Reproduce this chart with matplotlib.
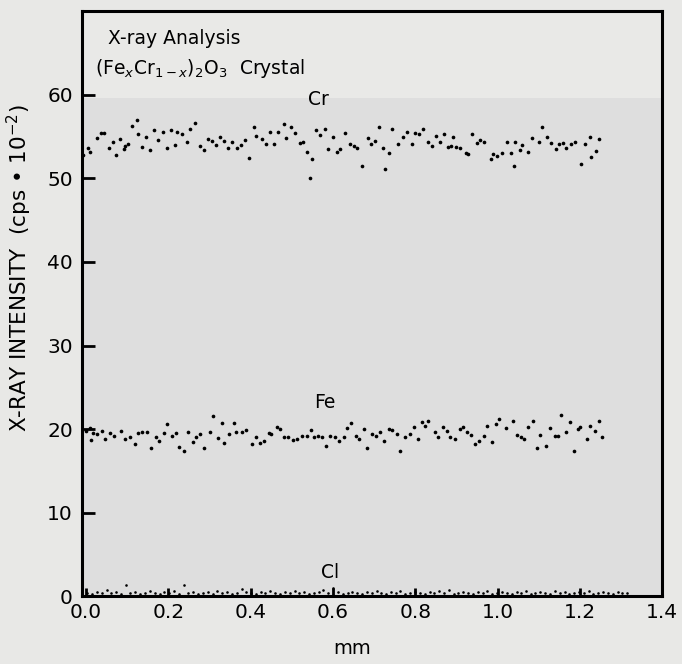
import matplotlib
matplotlib.use("Agg")
import matplotlib.pyplot as plt

# ---------------- data ----------------
cr_x = [-0.007, 0.006, 0.011, 0.026, 0.036, 0.044, 0.056, 0.065, 0.073, 0.082,
        0.092, 0.094, 0.103, 0.113, 0.125, 0.127, 0.137, 0.147, 0.155, 0.166,
        0.175, 0.186, 0.198, 0.206, 0.217, 0.222, 0.233, 0.246, 0.252, 0.264,
        0.277, 0.286, 0.296, 0.307, 0.317, 0.326, 0.336, 0.345, 0.356, 0.367,
        0.377, 0.386, 0.395, 0.408, 0.414, 0.427, 0.437, 0.447, 0.458, 0.467,
        0.481, 0.485, 0.497, 0.507, 0.520, 0.527, 0.537, 0.544, 0.549, 0.558,
        0.568, 0.580, 0.588, 0.600, 0.611, 0.617, 0.629, 0.641, 0.651, 0.658,
        0.670, 0.685, 0.692, 0.703, 0.713, 0.721, 0.727, 0.736, 0.743, 0.759,
        0.770, 0.781, 0.791, 0.800, 0.808, 0.820, 0.831, 0.841, 0.851, 0.860,
        0.871, 0.880, 0.888, 0.892, 0.898, 0.908, 0.924, 0.929, 0.939, 0.950,
        0.958, 0.968, 0.984, 0.990, 0.999, 1.011, 1.022, 1.033, 1.042, 1.041,
        1.055, 1.059, 1.074, 1.083, 1.100, 1.109, 1.120, 1.130, 1.141, 1.149,
        1.158, 1.167, 1.178, 1.187, 1.203, 1.213, 1.226, 1.225, 1.239, 1.247]
cr_y = [52.8, 53.7, 53.2, 54.8, 55.4, 55.4, 53.7, 54.3, 52.8, 54.7,
        53.5, 53.9, 54.1, 56.3, 57.0, 55.3, 53.8, 54.9, 53.4, 55.8,
        54.6, 55.6, 53.7, 55.8, 54.0, 55.5, 55.3, 54.3, 55.9, 56.6,
        53.9, 53.4, 54.7, 54.5, 54.0, 55.0, 54.5, 53.6, 54.3, 53.7,
        54.0, 54.6, 52.5, 56.2, 55.1, 54.7, 54.1, 55.5, 54.1, 55.6,
        56.5, 54.8, 56.2, 55.4, 54.2, 54.3, 53.2, 50.0, 52.3, 55.8,
        55.2, 55.9, 53.5, 54.9, 53.2, 53.5, 55.4, 54.1, 53.9, 53.7,
        51.5, 54.8, 54.1, 54.5, 56.1, 53.7, 51.1, 53.0, 55.9, 54.1,
        54.9, 55.6, 54.1, 55.4, 55.3, 55.9, 54.3, 53.9, 55.1, 54.3,
        55.3, 53.8, 53.9, 54.9, 53.8, 53.7, 53.1, 52.9, 55.3, 54.2,
        54.6, 54.3, 52.3, 52.9, 52.7, 53.1, 54.3, 53.0, 54.3, 51.5,
        53.4, 54.0, 53.2, 54.8, 54.3, 56.1, 55.0, 54.2, 53.5, 54.1,
        54.2, 53.7, 54.1, 54.3, 51.7, 54.1, 52.6, 54.9, 53.3, 54.7]

fe_x = [0.000, 0.011, 0.012, 0.018, 0.027, 0.039, 0.046, 0.058, 0.068, 0.085,
        0.096, 0.107, 0.118, 0.127, 0.136, 0.149, 0.157, 0.169, 0.178, 0.189,
        0.198, 0.210, 0.219, 0.227, 0.239, 0.249, 0.259, 0.268, 0.277, 0.286,
        0.302, 0.309, 0.321, 0.331, 0.336, 0.348, 0.360, 0.365, 0.378, 0.390,
        0.403, 0.413, 0.423, 0.432, 0.445, 0.450, 0.464, 0.472, 0.482, 0.490,
        0.502, 0.513, 0.526, 0.537, 0.546, 0.555, 0.564, 0.574, 0.584, 0.592,
        0.605, 0.615, 0.626, 0.634, 0.643, 0.655, 0.663, 0.675, 0.683, 0.694,
        0.704, 0.715, 0.725, 0.736, 0.743, 0.755, 0.764, 0.775, 0.788, 0.796,
        0.806, 0.817, 0.824, 0.831, 0.847, 0.856, 0.867, 0.877, 0.885, 0.897,
        0.909, 0.917, 0.926, 0.935, 0.946, 0.955, 0.966, 0.975, 0.987, 0.995,
        1.004, 1.020, 1.037, 1.048, 1.056, 1.063, 1.075, 1.086, 1.096, 1.104,
        1.117, 1.127, 1.140, 1.148, 1.155, 1.166, 1.177, 1.185, 1.195, 1.201,
        1.217, 1.225, 1.236, 1.247, 1.253]
fe_y = [19.8, 20.1, 18.7, 19.5, 19.4, 19.8, 18.8, 19.5, 19.2, 19.8,
        18.8, 19.0, 18.2, 19.5, 19.6, 19.6, 17.8, 19.0, 18.6, 19.5,
        20.6, 19.2, 19.5, 17.9, 17.4, 19.6, 18.5, 19.1, 19.4, 17.8,
        19.6, 21.6, 18.9, 20.7, 18.3, 19.4, 20.7, 19.7, 19.6, 19.9,
        18.2, 19.0, 18.4, 18.6, 19.5, 19.4, 20.3, 20.0, 19.1, 19.1,
        18.7, 18.8, 19.2, 19.2, 19.9, 19.1, 19.2, 19.1, 18.0, 19.2,
        19.0, 18.6, 19.0, 20.1, 20.7, 19.2, 18.8, 20.0, 17.8, 19.4,
        19.2, 19.6, 18.6, 20.0, 19.9, 19.4, 17.4, 19.0, 19.4, 20.2,
        18.8, 20.8, 20.4, 21.0, 19.7, 19.1, 20.2, 19.8, 19.1, 18.8,
        20.0, 20.3, 19.6, 19.3, 18.2, 18.6, 19.2, 20.4, 18.5, 20.6,
        21.2, 20.1, 21.0, 19.3, 19.1, 18.8, 20.3, 21.0, 17.8, 19.3,
        18.0, 20.1, 19.2, 19.2, 21.7, 19.7, 20.8, 17.4, 20.0, 20.2,
        18.8, 20.4, 19.8, 21.0, 19.1]

cl_x = [0.003, 0.015, 0.026, 0.038, 0.050, 0.061, 0.073, 0.085, 0.097, 0.108,
        0.120, 0.132, 0.143, 0.155, 0.167, 0.179, 0.190, 0.202, 0.214, 0.226,
        0.237, 0.249, 0.261, 0.272, 0.284, 0.296, 0.308, 0.319, 0.331, 0.343,
        0.354, 0.366, 0.378, 0.390, 0.401, 0.413, 0.425, 0.436, 0.448, 0.460,
        0.472, 0.483, 0.495, 0.507, 0.518, 0.530, 0.542, 0.554, 0.565, 0.577,
        0.589, 0.600, 0.612, 0.624, 0.636, 0.647, 0.659, 0.671, 0.682, 0.694,
        0.706, 0.718, 0.729, 0.741, 0.753, 0.764, 0.776, 0.788, 0.800, 0.811,
        0.823, 0.835, 0.846, 0.858, 0.870, 0.882, 0.893, 0.905, 0.917, 0.928,
        0.940, 0.952, 0.964, 0.975, 0.987, 0.999, 1.010, 1.022, 1.034, 1.046,
        1.057, 1.069, 1.081, 1.092, 1.104, 1.116, 1.128, 1.139, 1.151, 1.163,
        1.174, 1.186, 1.198, 1.210, 1.221, 1.233, 1.245, 1.256, 1.268, 1.280,
        1.292, 1.303, 1.315]
cl_y = [0.4, 0.3, 0.5, 0.4, 0.8, 0.4, 0.5, 0.3, 1.3, 0.4,
        0.5, 0.3, 0.4, 0.6, 0.4, 0.3, 0.5, 0.4, 0.6, 0.3,
        1.3, 0.4, 0.5, 0.3, 0.4, 0.5, 0.3, 0.6, 0.4, 0.5,
        0.3, 0.4, 0.9, 0.5, 0.4, 0.3, 0.5, 0.4, 0.6, 0.4,
        0.3, 0.5, 0.4, 0.6, 0.4, 0.5, 0.3, 0.4, 0.5, 0.7,
        0.4, 1.0, 0.5, 0.3, 0.4, 0.5, 0.4, 0.3, 0.5, 0.4,
        0.6, 0.4, 0.3, 0.5, 0.4, 0.6, 0.3, 0.4, 0.5, 0.4,
        0.3, 0.5, 0.4, 0.6, 0.4, 0.7, 0.3, 0.4, 0.5, 0.4,
        0.3, 0.5, 0.4, 0.6, 0.3, 0.4, 0.5, 0.4, 0.3, 0.5,
        0.4, 0.6, 0.3, 0.4, 0.5, 0.4, 0.3, 0.6, 0.4, 0.5,
        0.3, 0.4, 0.5, 0.4, 0.6, 0.3, 0.4, 0.5, 0.4, 0.3,
        0.5, 0.4, 0.4]

x_ticks = [0.0, 0.2, 0.4, 0.6, 0.8, 1.0, 1.2, 1.4]
x_ticklabels = ["0.0", "0.2", "0.4", "0.6", "0.8", "1.0", "1.2", "1.4"]
y_ticks = [0, 10, 20, 30, 40, 50, 60]
y_ticklabels = ["0", "10", "20", "30", "40", "50", "60"]

series_labels = ["Cr", "Fe", "Cl"]
series_label_pos = [(0.566, 59.4), (0.580, 23.2), (0.593, 2.9)]

# ---------------- figure ----------------
plt.rcParams['font.family'] = ['DejaVu Sans']
fig = plt.figure(figsize=(6.82, 6.64), dpi=100, facecolor='#e8e8e6')
ax = fig.add_axes([0.120, 0.102, 0.851, 0.881])
ax.set_facecolor('#dedede')
ax.axhspan(59.6, 70, color='#e9e9e7', zorder=0, lw=0)

ax.scatter(cr_x, cr_y, s=7, color='black', zorder=3, linewidths=0)
ax.scatter(fe_x, fe_y, s=7, color='black', zorder=3, linewidths=0)
ax.scatter(cl_x, cl_y, s=3.5, color='black', zorder=3, linewidths=0, clip_on=False)

ax.set_xlim(-0.01, 1.395)
ax.set_ylim(0, 70)
ax.set_xticks(x_ticks)
ax.set_xticklabels(x_ticklabels)
ax.set_yticks(y_ticks)
ax.set_yticklabels(y_ticklabels)

ax.tick_params(axis='both', direction='in', labelsize=14.5, width=2, colors='black')
ax.tick_params(axis='y', length=9, pad=6.5)
ax.tick_params(axis='x', length=6, pad=5)

for sp in ax.spines.values():
    sp.set_linewidth(2.2)
    sp.set_color('black')

ax.set_xlabel('mm', fontsize=14)
ax.xaxis.set_label_coords(0.466, -0.073)
ax.set_ylabel('X-RAY INTENSITY  (cps • 10$^{-2}$)', fontsize=15.5)
ax.yaxis.set_label_coords(-0.083, 0.56)

for lab, (lx, ly) in zip(series_labels, series_label_pos):
    ax.text(lx, ly, lab, fontsize=13.5, ha='center', va='center', fontweight='medium')

ax.text(0.045, 0.953, 'X-ray Analysis', transform=ax.transAxes, fontsize=13.5,
        ha='left', va='center')
ax.text(0.022, 0.903, r'(Fe$_{x}$Cr$_{1-x}$)$_{2}$O$_{3}$  Crystal', transform=ax.transAxes,
        fontsize=13.5, ha='left', va='center')

fig.savefig('out.png', dpi=100, facecolor=fig.get_facecolor())
